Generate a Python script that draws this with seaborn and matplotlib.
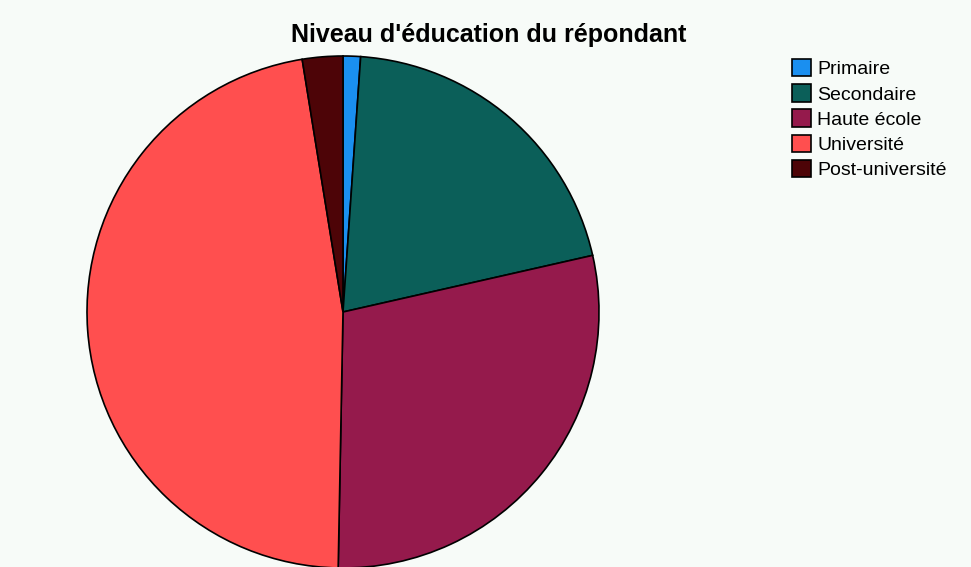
import matplotlib
matplotlib.use('Agg')
import matplotlib.pyplot as plt
import seaborn as sns

# données (parts estimées en %)
niveaux = ['Primaire', 'Secondaire', 'Haute école', 'Université', 'Post-université']
parts = [1.1, 20.35, 28.85, 47.15, 2.55]
couleurs = ['#1a8ff0', '#0b5f59', '#951a4c', '#ff4f4f', '#4d0407']

sns.set_style('white')
plt.rcParams['font.family'] = ['Liberation Sans', 'DejaVu Sans']
plt.rcParams['text.color'] = 'black'

fond = '#f7fbf8'
fig = plt.figure(figsize=(9.71, 5.67), dpi=100, facecolor=fond)

# axe carré pour le camembert (centre ~ (343, 312) px, rayon ~256 px)
W, H = 971, 567
cx, cy, r = 343, 312, 256
ax = fig.add_axes([(cx - r) / W, (H - cy - r) / H, 2 * r / W, 2 * r / H])
ax.set_facecolor(fond)

palette = sns.color_palette(couleurs)
wedges, _ = ax.pie(parts, colors=palette, startangle=90, counterclock=False,
                   radius=1, wedgeprops=dict(edgecolor='black', linewidth=1.2))
for w in wedges:
    w.set_clip_on(False)
ax.set_xlim(-1, 1)
ax.set_ylim(-1, 1)
ax.set_aspect('auto')
ax.axis('off')

fig.text(489 / W, 1 - 35 / H, "Niveau d'éducation du répondant",
         ha='center', va='center', fontsize=18, fontweight='bold')

leg = fig.legend(wedges, niveaux, loc='upper left',
                 bbox_to_anchor=(792 / W, 1 - 59 / H), frameon=False,
                 fontsize=14, handlelength=1.0, handleheight=1.0,
                 handletextpad=0.3, labelspacing=0.3, borderpad=0,
                 borderaxespad=0)
for t in leg.get_texts():
    t.set_color('black')

plt.savefig('out.png', dpi=100, facecolor=fond)
